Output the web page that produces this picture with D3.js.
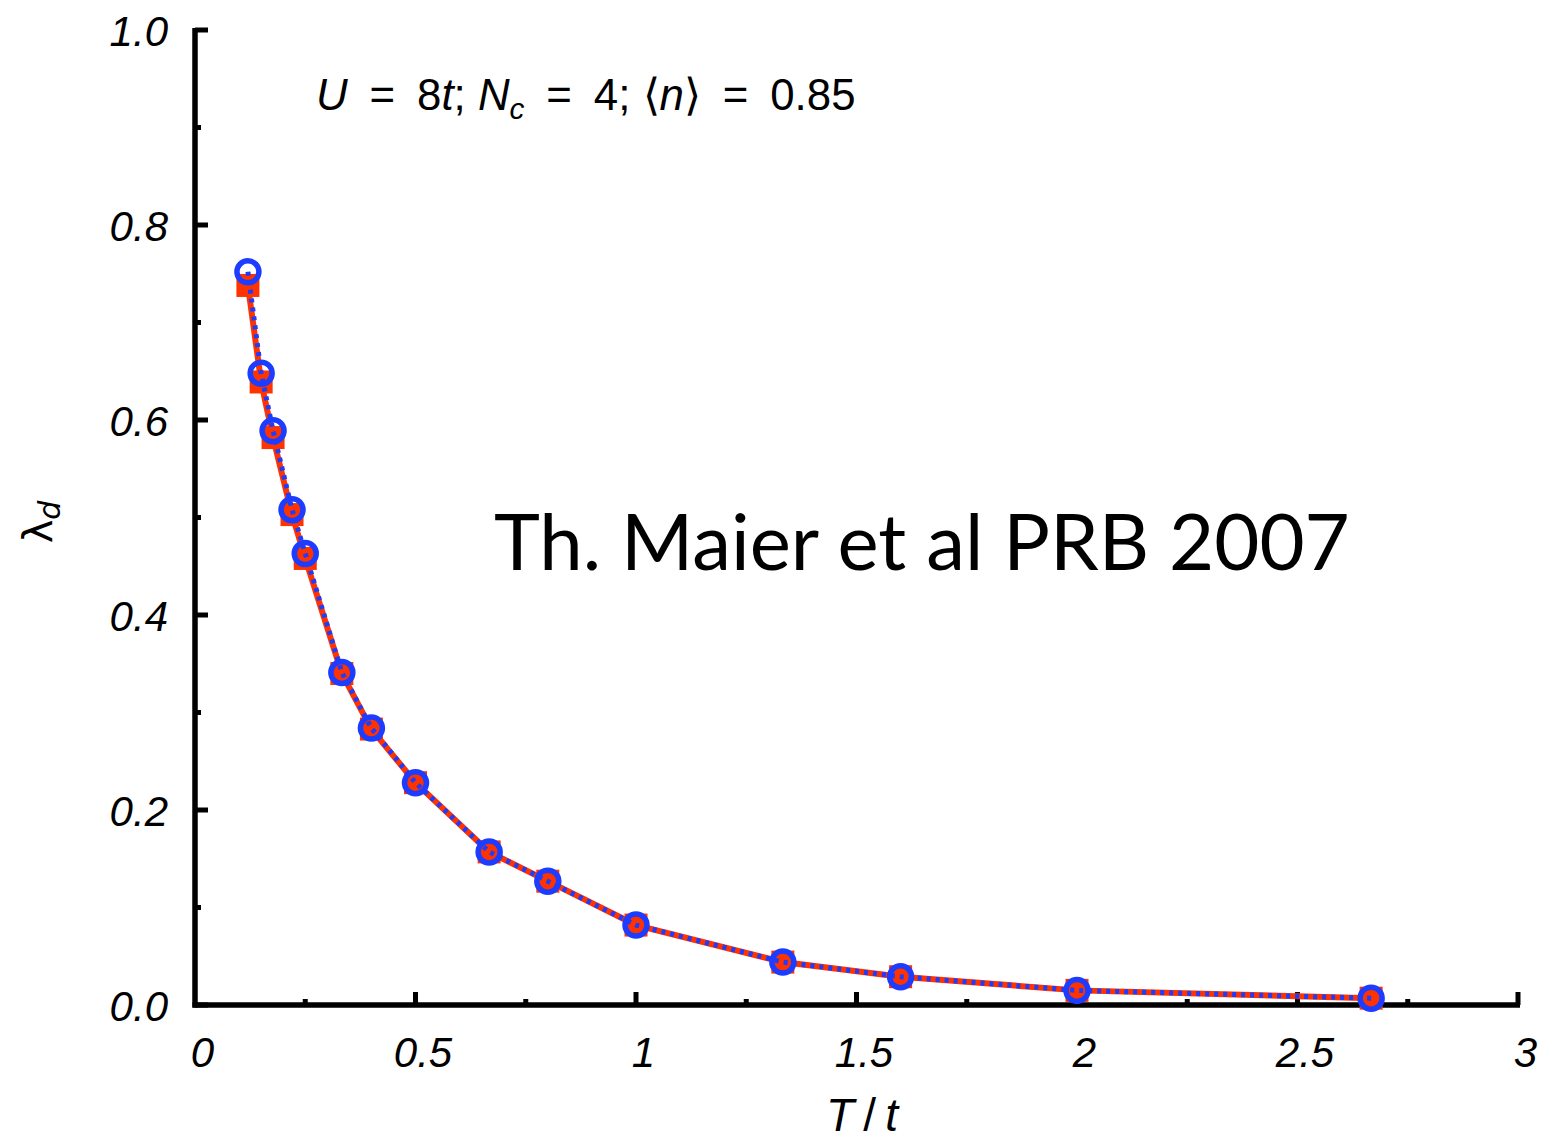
<!DOCTYPE html>
<html>
<head>
<meta charset="utf-8">
<script src="https://cdn.jsdelivr.net/npm/d3@7"></script>
<style>
  html, body { margin: 0; padding: 0; background: #fff; }
  svg { display: block; }
</style>
</head>
<body>
<svg id="chart" width="1546" height="1143"></svg>
<script>
// ---- data ----
const temperatures = [0.12, 0.15, 0.177, 0.22, 0.25, 0.333, 0.4, 0.5, 0.667, 0.8, 1.0, 1.333, 1.6, 2.0, 2.667];
const lambdaSquares = [0.738, 0.639, 0.582, 0.503, 0.458, 0.340, 0.283, 0.228, 0.157, 0.127, 0.082, 0.044, 0.029, 0.015, 0.007];
const lambdaCircles = [0.752, 0.648, 0.589, 0.508, 0.463, 0.341, 0.284, 0.228, 0.157, 0.127, 0.082, 0.044, 0.029, 0.015, 0.007];
const xTickValues = [0, 0.5, 1, 1.5, 2, 2.5, 3];
const xTickLabels = ["0", "0.5", "1", "1.5", "2", "2.5", "3"];
const xMinorTicks = [0.25, 0.75, 1.25, 1.75, 2.25, 2.75];
const yTickValues = [0, 0.2, 0.4, 0.6, 0.8, 1.0];
const yTickLabels = ["0.0", "0.2", "0.4", "0.6", "0.8", "1.0"];
const yMinorTicks = [0.1, 0.3, 0.5, 0.7, 0.9];

const RED = "#ff3300";
const BLUE = "#1c3cff";
const tickFont = "'Liberation Sans', Arial, sans-serif";

const svg = d3.select("#chart");
const x = d3.scaleLinear().domain([0, 3]).range([195, 1518]);
const y = d3.scaleLinear().domain([0, 1]).range([1005, 30]);

// ---- axes ----
const xAxis = d3.axisBottom(x).tickValues(xTickValues).tickSize(0).tickFormat((d, i) => xTickLabels[i]);
const gx = svg.append("g").attr("transform", `translate(0,${y(0)})`).call(xAxis);
gx.select(".domain").remove();
gx.selectAll("text")
  .attr("dy", 0).attr("y", 62).attr("dx", 7)
  .style("font-family", tickFont).style("font-style", "italic").style("font-size", "42px").attr("fill", "#000");

const yAxis = d3.axisLeft(y).tickValues(yTickValues).tickSize(0).tickFormat((d, i) => yTickLabels[i]);
const gy = svg.append("g").attr("transform", `translate(${x(0)},0)`).call(yAxis);
gy.select(".domain").remove();
gy.selectAll("text")
  .attr("x", -27).attr("dy", "0.36em")
  .style("font-family", tickFont).style("font-style", "italic").style("font-size", "42px").attr("fill", "#000");

// axis lines
svg.append("line").attr("x1", x(0)).attr("x2", x(0)).attr("y1", y(1) - 2).attr("y2", y(0) + 2.5)
  .attr("stroke", "#000").attr("stroke-width", 5.5);
svg.append("line").attr("x1", x(0) - 2.5).attr("x2", x(3) + 2).attr("y1", y(0)).attr("y2", y(0))
  .attr("stroke", "#000").attr("stroke-width", 5.5);

// ticks (inward)
svg.append("g").selectAll("line").data(yTickValues).join("line")
  .attr("x1", x(0)).attr("x2", x(0) + 13).attr("y1", d => y(d)).attr("y2", d => y(d))
  .attr("stroke", "#000").attr("stroke-width", 5);
svg.append("g").selectAll("line").data(yMinorTicks).join("line")
  .attr("x1", x(0)).attr("x2", x(0) + 6).attr("y1", d => y(d)).attr("y2", d => y(d))
  .attr("stroke", "#000").attr("stroke-width", 5);
svg.append("g").selectAll("line").data(xTickValues.filter(d => d > 0)).join("line")
  .attr("x1", d => x(d)).attr("x2", d => x(d)).attr("y1", y(0)).attr("y2", y(0) - 13)
  .attr("stroke", "#000").attr("stroke-width", 5);
svg.append("g").selectAll("line").data(xMinorTicks).join("line")
  .attr("x1", d => x(d)).attr("x2", d => x(d)).attr("y1", y(0)).attr("y2", y(0) - 6)
  .attr("stroke", "#000").attr("stroke-width", 5);

// axis titles
const xt = svg.append("text").attr("x", 862).attr("y", 1131).attr("text-anchor", "middle")
  .style("font-family", tickFont).style("font-size", "46px");
xt.append("tspan").style("font-style", "italic").text("T");
xt.append("tspan").text("\u2009/\u2009");
xt.append("tspan").style("font-style", "italic").text("t");

const yt = svg.append("text").attr("transform", "translate(52,522) rotate(-90)").attr("text-anchor", "middle")
  .style("font-family", "'DejaVu Sans', sans-serif").style("font-size", "40px");
yt.append("tspan").text("λ");
yt.append("tspan").attr("dy", 8).style("font-style", "italic").style("font-size", "30px").text("d");

// ---- series ----
const ptsSq = temperatures.map((t, i) => [t, lambdaSquares[i]]);
const ptsCi = temperatures.map((t, i) => [t, lambdaCircles[i]]);
const line = d3.line().x(d => x(d[0])).y(d => y(d[1]));

svg.append("path").attr("d", line(ptsSq)).attr("fill", "none").attr("stroke", RED).attr("stroke-width", 6);
svg.append("g").selectAll("rect").data(ptsSq).join("rect")
  .attr("x", d => x(d[0]) - 11.5).attr("y", d => y(d[1]) - 11.5)
  .attr("width", 23).attr("height", 23).attr("fill", RED);

svg.append("path").attr("d", line(ptsCi)).attr("fill", "none").attr("stroke", BLUE)
  .attr("stroke-width", 5).attr("stroke-dasharray", "4,5");
svg.append("g").selectAll("circle").data(ptsCi).join("circle")
  .attr("cx", d => x(d[0])).attr("cy", d => y(d[1])).attr("r", 11)
  .attr("fill", "none").attr("stroke", BLUE).attr("stroke-width", 5.5);

// ---- annotations ----
const S = "\u2002";
const ann = svg.append("text").attr("x", 316).attr("y", 110)
  .style("font-family", tickFont).style("font-size", "44px").attr("fill", "#000");
ann.append("tspan").style("font-style", "italic").text("U");
ann.append("tspan").text(S + "=" + S + "8");
ann.append("tspan").style("font-style", "italic").text("t");
ann.append("tspan").text("; ");
ann.append("tspan").style("font-style", "italic").text("N");
const sub = ann.append("tspan").attr("dy", 9).style("font-style", "italic").style("font-size", "30px").text("c");
ann.append("tspan").attr("dy", -9).text(S + "=" + S + "4; ⟨");
ann.append("tspan").style("font-style", "italic").text("n");
ann.append("tspan").text("⟩" + S + "=" + S + "0.85");
const annW = ann.node().getComputedTextLength();
const fs = 44 * 540 / annW;
ann.style("font-size", fs.toFixed(1) + "px");
sub.style("font-size", (fs * 0.68).toFixed(1) + "px");

const cite = svg.append("text").attr("x", 494).attr("y", 570)
  .style("font-family", "Lato, 'Noto Sans', sans-serif").style("font-size", "86px").attr("fill", "#000")
  .text("Th. Maier et al PRB 2007");
const citeW = cite.node().getComputedTextLength();
cite.style("font-size", (86 * 856 / citeW).toFixed(1) + "px");
</script>
</body>
</html>
